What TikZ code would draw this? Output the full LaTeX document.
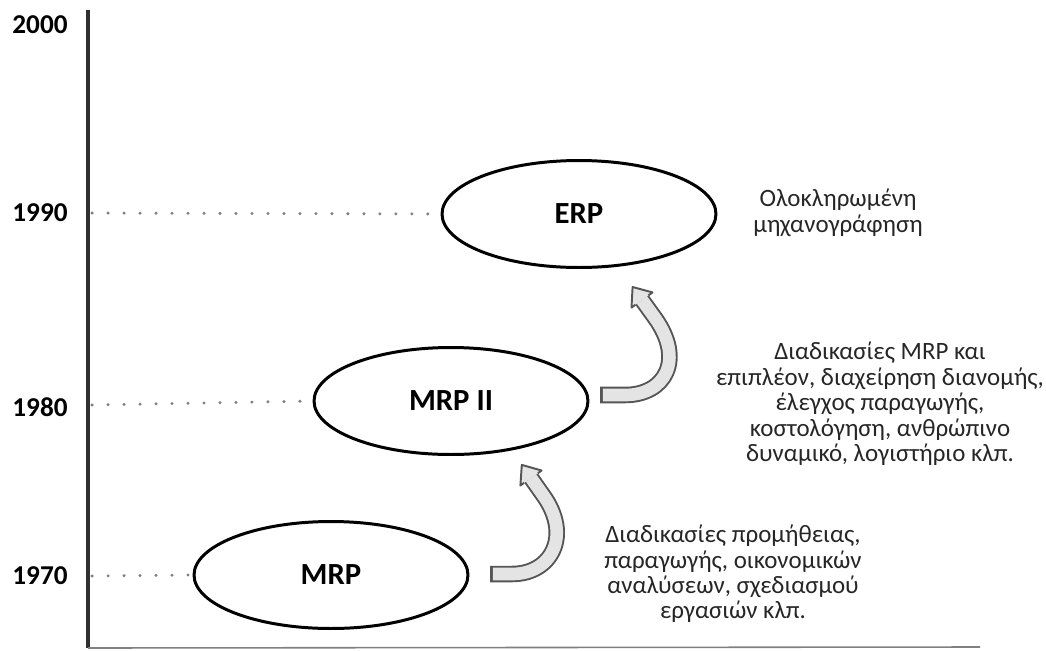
\documentclass[tikz,border=0pt]{standalone}
\usepackage{fontspec}
\setmainfont{Carlito}
\usetikzlibrary{shapes.geometric}
\definecolor{axisgray}{HTML}{303030}
\definecolor{dotgray}{HTML}{808080}
\definecolor{bandline}{HTML}{555555}
\definecolor{bandfill}{HTML}{E4E4E4}
\tikzset{
  year/.style={font=\bfseries\fontsize{15.5pt}{17pt}\selectfont, anchor=center},
  stage/.style={ellipse, draw=black, line width=1.7pt, fill=white,
    minimum width=5.48cm, minimum height=2.14cm, inner sep=0pt,
    font=\bfseries\fontsize{17.5pt}{20pt}\selectfont},
  note/.style={align=center, text=black!85, font=\fontsize{14.2pt}{14.5pt}\selectfont},
  guide/.style={dotgray, line width=1.8pt, line cap=round, dash pattern=on 0.1pt off 9pt},
  bandout/.style={bandline, line width=9.4pt},
  bandin/.style={bandfill, line width=7.2pt},
  bandhead/.style={fill=bandfill, draw=bandline, line width=1.1pt, line join=round}
}
\begin{document}
\begin{tikzpicture}[x=0.02cm, y=-0.02cm]
  \useasboundingbox (0,0) rectangle (1046,650);

  % axes
  \coordinate (top) at (88,10);
  \coordinate (origin) at (88,648);
  \coordinate (xend) at (980,647);
  \draw[axisgray, line width=1.8pt] (top) -- (origin);
  \draw[gray, line width=0.9pt] (origin) -- (xend);

  % years
  \node[year] (y2000) at (40,25) {2000};
  \node[year] (y1990) at (40,213) {1990};
  \node[year] (y1980) at (40,407) {1980};
  \node[year] (y1970) at (40,576) {1970};
  \coordinate (t1990) at (92,213);
  \coordinate (t1980) at (92,405);
  \coordinate (t1970) at (92,576);

  % stages
  \node[stage] (erp) at (579,214) {ERP};
  \node[stage] (mrp2) at (451,401) {MRP II};
  \node[stage] (mrp) at (331,575) {MRP};

  % dotted guides
  \draw[guide] (t1990) -- (erp.west);
  \draw[guide] (t1980) -- (mrp2.west);
  \draw[guide] (t1970) -- (mrp.west);

  % curved block arrow MRP -> MRP II
  \draw[bandout] (490,574) -- (512,574) .. controls (552,574) and (572,535) .. (543,495) -- (531,478);
  \draw[bandin, shorten <=1.6pt] (490,574) -- (512,574) .. controls (552,574) and (572,535) .. (543,495) -- (531,478);
  \filldraw[bandhead] (537.9,473.2) -- (541.6,470.5) -- (521.8,464.9) -- (520.4,485.5) -- (524.1,482.8);

  % curved block arrow MRP II -> ERP
  \draw[bandout] (600,395) -- (625,395) .. controls (665,395) and (685,360) .. (655,318) -- (642,300);
  \draw[bandin, shorten <=1.6pt] (600,395) -- (625,395) .. controls (665,395) and (685,360) .. (655,318) -- (642,300);
  \filldraw[bandhead] (648.5,295.3) -- (652.5,292.4) -- (632.6,287) -- (631.5,307.6) -- (635.5,304.7);

  % descriptions
  \node[note] (d1990) at (838,213) {Ολοκληρωμένη\\μηχανογράφηση};
  \node[note] (d1980) at (880,404) {Διαδικασίες MRP και\\επιπλέον, διαχείρηση διανομής,\\έλεγχος παραγωγής,\\κοστολόγηση, ανθρώπινο\\δυναμικό, λογιστήριο κλπ.};
  \node[note] (d1970) at (733,574) {Διαδικασίες προμήθειας,\\παραγωγής, οικονομικών\\αναλύσεων, σχεδιασμού\\εργασιών κλπ.};
\end{tikzpicture}
\end{document}
